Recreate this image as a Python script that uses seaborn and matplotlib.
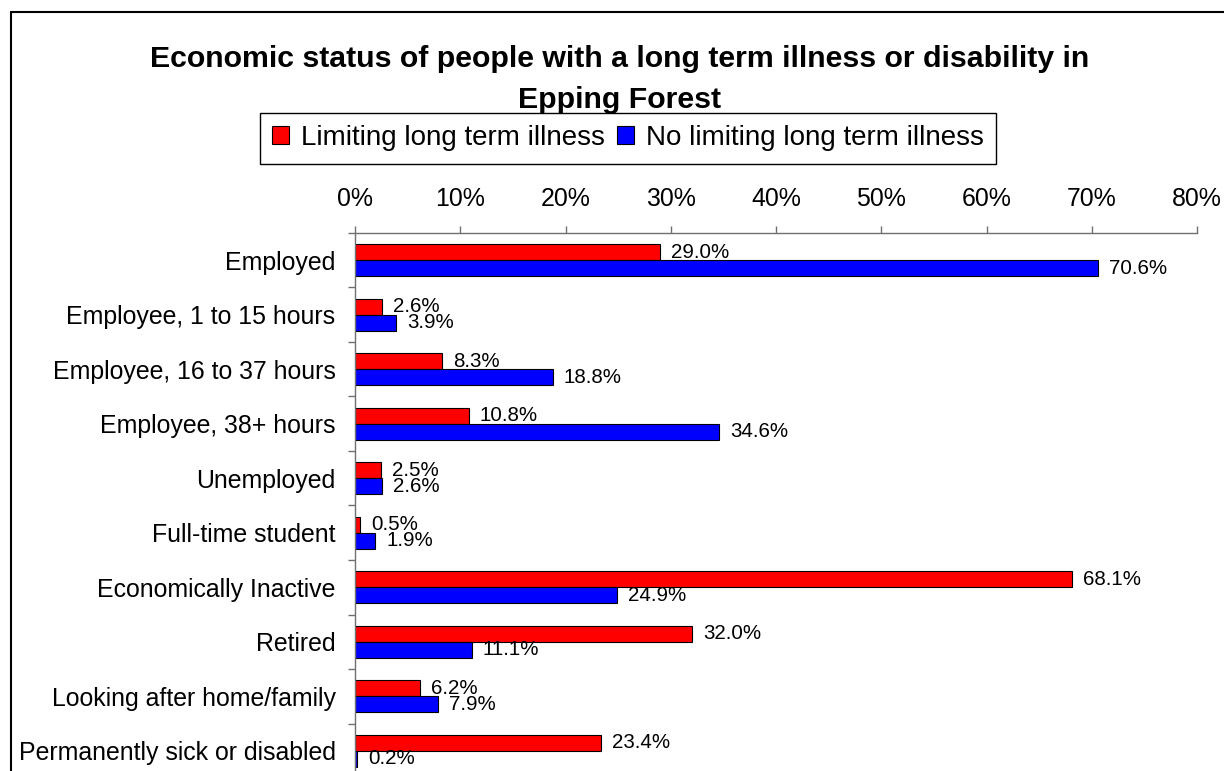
import matplotlib
matplotlib.use("Agg")
import matplotlib.pyplot as plt
from matplotlib.lines import Line2D
from matplotlib.ticker import FixedLocator, FuncFormatter
import seaborn as sns
import pandas as pd

# Economic status categories (top to bottom)
categories = [
    "Employed",
    "Employee, 1 to 15 hours",
    "Employee, 16 to 37 hours",
    "Employee, 38+ hours",
    "Unemployed",
    "Full-time student",
    "Economically Inactive",
    "Retired",
    "Looking after home/family",
    "Permanently sick or disabled",
]
series_names = ["Limiting long term illness", "No limiting long term illness"]
limiting = [29.0, 2.6, 8.3, 10.8, 2.5, 0.5, 68.1, 32.0, 6.2, 23.4]
no_limiting = [70.6, 3.9, 18.8, 34.6, 2.6, 1.9, 24.9, 11.1, 7.9, 0.2]
x_ticks = [0, 10, 20, 30, 40, 50, 60, 70, 80]
title = "Economic status of people with a long term illness or disability in\nEpping Forest"

df = pd.DataFrame({
    "status": categories * 2,
    "group": [series_names[0]] * len(categories) + [series_names[1]] * len(categories),
    "value": limiting + no_limiting,
})

sns.set_theme(style="white")
plt.rcParams["font.family"] = ["Liberation Sans", "DejaVu Sans"]
plt.rcParams["text.color"] = "black"

W, H = 1224, 771
fig = plt.figure(figsize=(W / 100, H / 100), dpi=100)
fig.patch.set_facecolor("white")

# plot area in pixels: left 355, right 1197, top 233, bottom 778
ax = fig.add_axes([355 / W, 1 - 778 / H, (1197 - 355) / W, (778 - 233) / H])

sns.barplot(
    data=df, x="value", y="status", hue="group",
    order=categories, hue_order=series_names,
    palette=["#FF0000", "#0000FF"], orient="h",
    width=0.59, saturation=1, edgecolor="black", linewidth=0.8,
    errorbar=None, ax=ax,
)

handles = ax.get_legend().legend_handles
ax.get_legend().remove()

for cont, vals in zip(ax.containers, [limiting, no_limiting]):
    ax.bar_label(cont, labels=[f"{v:.1f}%" for v in vals], padding=8,
                 fontsize=14.8, color="black")

axis_col = "#707070"
ax.set_xlim(0, 80)
ax.set_ylim(len(categories) - 0.5, -0.5)
ax.xaxis.tick_top()
ax.xaxis.set_major_locator(FixedLocator(x_ticks))
ax.xaxis.set_major_formatter(FuncFormatter(lambda v, p: f"{v:.0f}%"))
ax.tick_params(axis="x", which="major", direction="out", length=5, width=1,
               color=axis_col, labelsize=17.9, pad=11, labelcolor="black",
               top=True, bottom=False)

ax.yaxis.set_minor_locator(FixedLocator([i + 0.5 for i in range(-1, len(categories))]))
ax.tick_params(axis="y", which="major", length=0, pad=14, labelsize=17.9,
               labelcolor="black", left=True)
ax.tick_params(axis="y", which="minor", direction="out", length=5, width=1,
               color=axis_col, left=True)
ax.set_xlabel("")
ax.set_ylabel("")

for side in ["right", "bottom"]:
    ax.spines[side].set_visible(False)
for side in ["left", "top"]:
    ax.spines[side].set_color(axis_col)
    ax.spines[side].set_linewidth(1)
ax.grid(False)

for h in handles:
    h.set_edgecolor("black")
    h.set_linewidth(0.8)
leg = fig.legend(
    handles, series_names, loc="center", ncol=2,
    bbox_to_anchor=(628 / W, 1 - 138 / H), fontsize=20,
    frameon=True, fancybox=False, edgecolor="black", framealpha=1,
    handlelength=0.62, handleheight=0.62, handletextpad=0.42,
    columnspacing=0.44, borderpad=0.45, labelcolor="black",
)
leg.get_frame().set_linewidth(1)

fig.text(620 / W, 1 - 79.5 / H, title, ha="center", va="center",
         fontsize=21.8, fontweight="bold", linespacing=1.55, color="black")

# outer frame (left and top edges)
fig.add_artist(Line2D([11 / W, 11 / W], [-0.01, 1 - 12 / H],
                      transform=fig.transFigure, color="black", lw=1.5))
fig.add_artist(Line2D([11 / W, 1.01], [1 - 12 / H, 1 - 12 / H],
                      transform=fig.transFigure, color="black", lw=1.5))

fig.savefig("out.png", dpi=100, facecolor="white")
